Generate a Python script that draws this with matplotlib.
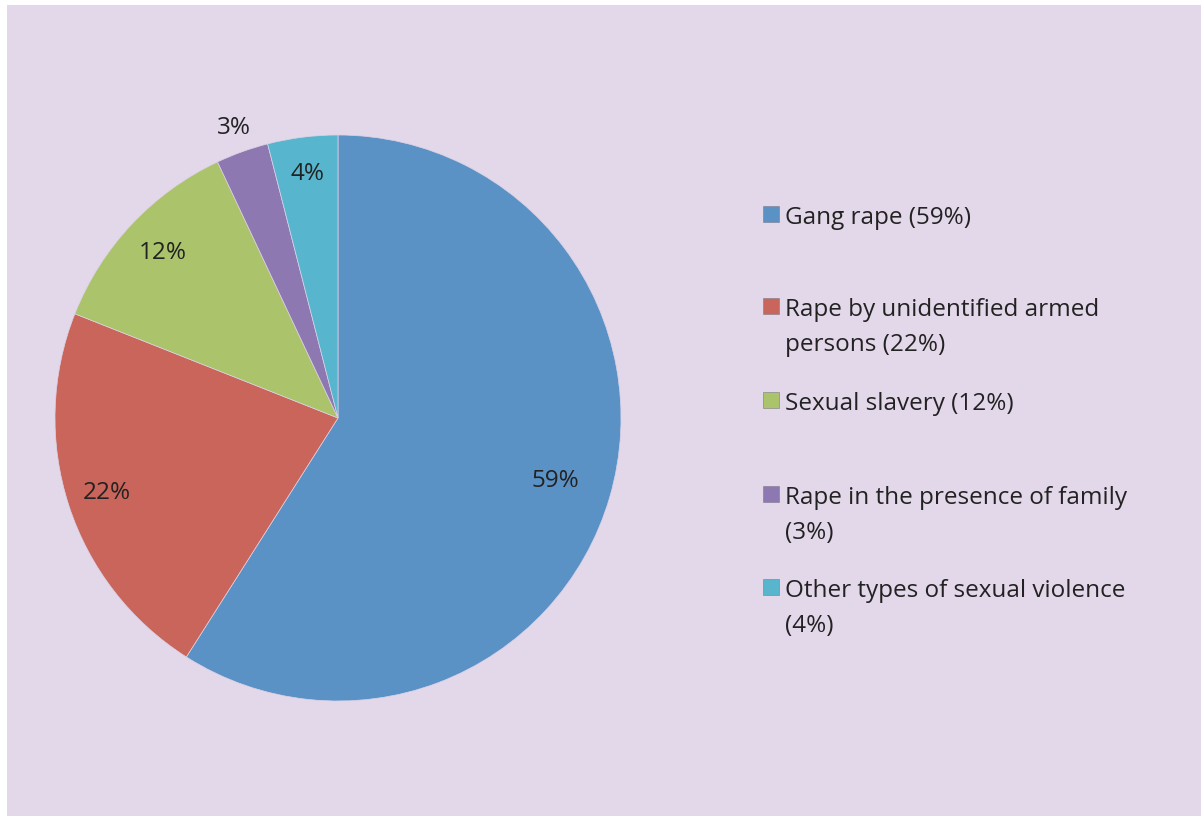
import matplotlib.pyplot as plt
from matplotlib.patches import Rectangle
import numpy as np

plt.rcParams['font.family'] = ['Open Sans', 'DejaVu Sans']

# data
categories = ['Gang rape (59%)',
              'Rape by unidentified armed\npersons (22%)',
              'Sexual slavery (12%)',
              'Rape in the presence of family\n(3%)',
              'Other types of sexual violence\n(4%)']
values = [59, 22, 12, 3, 4]
pct_labels = ['59%', '22%', '12%', '3%', '4%']
colors = ['#5B92C6', '#C9655A', '#ABC46B', '#8E78B1', '#57B6CD']
label_dist = [0.80, 0.86, 0.85, 1.09, 0.87]

bg = '#E3D7EA'
txt = '#222222'
fs = 17.5

fig = plt.figure(figsize=(12.01, 8.16), dpi=100)
fig.patch.set_facecolor('white')
# lavender panel (small white strip left/top like the original)
fig.patches.append(Rectangle((7 / 1201, 0), 1 - 7 / 1201, 1 - 5 / 816,
                             transform=fig.transFigure, facecolor=bg,
                             edgecolor='none', zorder=-5))

ax = fig.add_axes([55 / 1201, 115 / 816, 566 / 1201, 566 / 816])
ax.set_zorder(2)
ax.set_facecolor('none')
wedges, _ = ax.pie(values, colors=colors, startangle=90, counterclock=False,
                   radius=1.0, wedgeprops=dict(linewidth=0.5, edgecolor='#DCD3E6'))
ax.set_xlim(-1, 1)
ax.set_ylim(-1, 1)
ax.set_aspect('equal')
ax.axis('off')

for w, lab, d in zip(wedges, pct_labels, label_dist):
    ang = np.deg2rad((w.theta1 + w.theta2) / 2)
    ax.text(d * np.cos(ang), d * np.sin(ang), lab, ha='center', va='center',
            fontsize=fs, color=txt)

# legend drawn by hand (fixed slots like Excel)
slot_top = [206, 298, 392, 486, 579]
for c, lab, top in zip(colors, categories, slot_top):
    fig.patches.append(Rectangle((763 / 1201, 1 - (top + 16) / 816), 16 / 1201, 16 / 816,
                                 transform=fig.transFigure, facecolor=c,
                                 edgecolor='#7A7A8A', linewidth=0.4, zorder=2))
    for i, line in enumerate(lab.split('\n')):
        y = top + 12 + i * 35
        fig.text(785 / 1201, 1 - y / 816, line, ha='left', va='center',
                 fontsize=fs, color=txt)

fig.savefig('out.png', dpi=100, facecolor=fig.get_facecolor())
